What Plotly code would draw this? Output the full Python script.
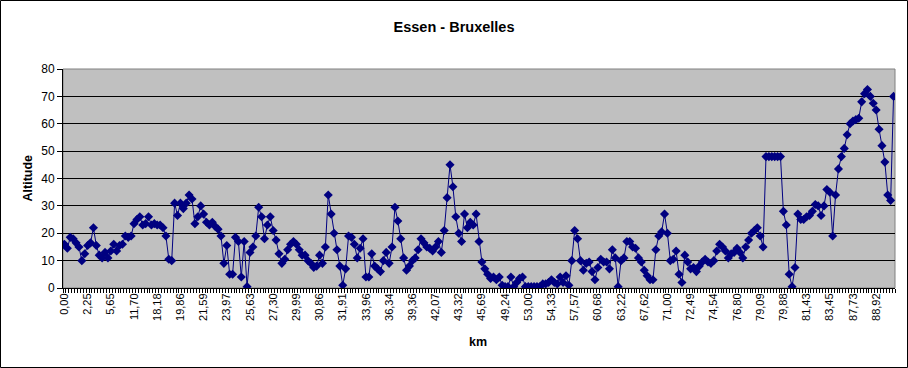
import plotly.graph_objects as go

# Altitude (m) along the route, one value per category (km point)
altitude = [
    16, 14.5, 18.5, 18, 16.5, 15, 10, 12.5, 15.5, 16.5,
    22, 15.5, 12, 11, 13, 11, 13.5, 16, 13.5, 15.5,
    16, 19, 18.5, 19, 23.5, 25, 26, 23, 23.5, 26,
    23, 23.5, 23, 23, 22, 19, 10.5, 10, 31, 26.5,
    31, 29, 31, 34, 32.5, 23.5, 26, 30, 27, 24,
    23, 24, 22.5, 21.5, 19, 9, 15.5, 5, 5, 18.5,
    17, 4, 17, 0.5, 13, 15, 19, 29.5, 26, 18,
    23, 26, 21, 17.5, 12.5, 9, 10.5, 14, 16, 17,
    16, 14, 12, 12, 10, 9, 7.5, 8, 12, 9,
    15, 34, 27, 20, 14, 8, 1, 7, 19, 18.5,
    16, 11, 14.5, 18, 4, 4, 12.5, 8, 7, 6,
    10, 13, 9, 15, 29.5, 24.5, 18, 11, 6.5, 8,
    10, 11, 14, 18, 16.5, 15, 14.5, 13.5, 15, 17,
    13, 21, 33, 45, 37, 26, 20, 17, 27, 22,
    24, 23, 27, 17, 9.5, 7, 5, 3.5, 4, 3,
    4, 1, 0.5, 0.5, 4, 0.5, 2, 3.5, 4, 0.5,
    0.5, 0.5, 0.5, 0.5, 0.5, 1.5, 1.5, 2, 3, 2,
    1.5, 4, 2, 4.5, 1, 10, 21, 18, 10, 6.5,
    9, 9.5, 6, 3, 7.5, 10.5, 9.5, 9.5, 7, 14,
    11, 0.5, 10, 11, 17, 17, 15, 14.5, 11, 9.5,
    6.5, 4.5, 3, 3, 14, 19, 20.5, 27, 20, 10,
    10.5, 13.5, 5, 2, 12, 9.5, 7, 7.5, 6, 8,
    9.5, 10.5, 9.5, 9, 10, 13.5, 16, 15, 13.5, 11,
    12.5, 13, 14.5, 13, 11, 15, 17.5, 20, 21, 22,
    19, 15, 48, 48, 48, 48, 48, 48, 28, 23,
    5, 0.5, 7.5, 27, 25, 25, 26, 26.5, 28, 30.5,
    30, 26.5, 30, 36, 35, 19, 34, 43.5, 48, 51,
    56, 60, 61, 61.5, 62, 68, 71, 72.5, 70, 67.5,
    65, 58, 52, 46, 34, 32, 70,
]

# Category labels shown on the x axis (every 8th category)
km_labels = [
    "0,00", "2,25", "5,65", "11,70", "18,18", "19,86", "21,59", "23,97",
    "25,63", "27,30", "29,99", "30,86", "31,91", "33,96", "36,34", "39,36",
    "42,07", "43,32", "45,69", "49,24", "53,00", "54,33", "57,57", "60,68",
    "63,22", "67,62", "71,00", "72,49", "74,54", "76,80", "79,09", "79,88",
    "81,43", "83,45", "87,73", "88,92",
]
label_step = 8

title_text = "Essen - Bruxelles"
x_title = "km"
y_title = "Altitude"

W, H = 908, 368
ML, MR, MT, MB = 63, 13, 69, 80
PW, PH = W - ML - MR, H - MT - MB

n = len(altitude)
xs = list(range(n))

FONT = "Liberation Sans, Arial, sans-serif"
NAVY = "#000080"

fig = go.Figure()
fig.add_trace(go.Scatter(
    x=xs, y=altitude, mode="lines+markers",
    line=dict(color=NAVY, width=1),
    marker=dict(symbol="diamond", size=7, color=NAVY, line=dict(width=0)),
    hoverinfo="skip", showlegend=False,
))

def px_x(p):
    return (p - ML) / PW

def px_y(p):
    return (MT + PH - p) / PH

fig.update_layout(
    width=W, height=H,
    margin=dict(l=ML, r=MR, t=MT, b=MB, pad=0),
    paper_bgcolor="white",
    plot_bgcolor="#C0C0C0",
    font=dict(family=FONT, size=12, color="black"),
    title=dict(text=title_text, x=0.5, xref="container", xanchor="center",
               y=1 - 27 / H, yref="container", yanchor="middle",
               font=dict(family=FONT, size=14.5, color="black", weight="bold")),
    xaxis=dict(
        range=[-0.5, n - 0.5], showgrid=False, zeroline=False, automargin=False,
        showline=True, linecolor="black", linewidth=1,
        tickmode="array",
        tickvals=[i * label_step for i in range(len(km_labels))],
        ticktext=km_labels, tickangle=-90, ticks="",
        tickfont=dict(family=FONT, size=11, color="black"),
        minor=dict(ticks="outside", ticklen=4, tickcolor="black", tickwidth=1,
                   tickmode="linear", tick0=-0.5, dtick=1, showgrid=False),
    ),
    yaxis=dict(
        range=[0, 80], dtick=10, tick0=0, showgrid=True, gridcolor="black",
        gridwidth=1, zeroline=False, showline=True, linecolor="black",
        linewidth=1, ticks="outside", ticklen=5, tickcolor="black",
        automargin=False,
        tickfont=dict(family=FONT, size=12, color="black"),
    ),
    shapes=[
        dict(type="rect", xref="paper", yref="paper", x0=0, x1=1, y0=0, y1=1,
             line=dict(color="#808080", width=1), fillcolor="rgba(0,0,0,0)",
             layer="between"),
        dict(type="rect", xref="paper", yref="paper",
             x0=px_x(0.5), x1=px_x(W - 0.5), y0=px_y(H - 0.5), y1=px_y(0.5),
             line=dict(color="black", width=1), fillcolor="rgba(0,0,0,0)",
             layer="above"),
    ],
    annotations=[
        dict(text=y_title, xref="paper", yref="paper", x=px_x(27), y=0.5,
             textangle=-90, showarrow=False, xanchor="center", yanchor="middle",
             font=dict(family=FONT, size=12.5, color="black", weight="bold")),
        dict(text=x_title, xref="paper", yref="paper", x=px_x(478), y=px_y(342),
             showarrow=False, xanchor="center", yanchor="middle",
             font=dict(family=FONT, size=12.5, color="black", weight="bold")),
    ],
)

fig.write_html("out.html", config={"displayModeBar": False},
               post_script="document.body.style.margin='0';")
